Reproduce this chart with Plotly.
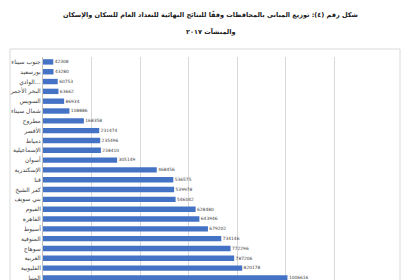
import plotly.graph_objects as go

categories = ["جنوب سيناء", "بورسعيد", "الوادي…", "البحر الأحمر", "السويس", "شمال سيناء", "مطروح",
              "الأقصر", "دمياط", "الإسماعيلية", "أسوان", "الإسكندرية", "قنا", "كفر الشيخ",
              "بني سويف", "الفيوم", "القاهرة", "أسيوط", "المنوفية", "سوهاج", "الغربية",
              "القليوبية", "المنيا"]
values = [42308, 43280, 60753, 63662, 86934, 108886, 168358, 231474, 235496, 238410, 305149,
          468456, 536575, 539978, 546042, 628480, 643946, 679202, 734146, 772296, 787206,
          820178, 1006616]
title_line1 = "شكل رقم (٤): توزيع المباني بالمحافظات وفقًا للنتائج النهائية للتعداد العام للسكان والإسكان"
title_line2 = "والمنشآت ٢٠١٧"

FONT = "DejaVu Sans"

fig = go.Figure(go.Bar(
    x=values, y=categories, orientation="h",
    marker=dict(color="#4472C4", line=dict(width=0)),
    text=["\u00a0" + str(v) for v in values], textposition="outside",
    textfont=dict(size=6.5, color="#404040", family=FONT),
    cliponaxis=False,
))

PH = 223.0
def py(p):
    return (280 - p) / PH

fig.update_layout(
    width=420, height=280,
    margin=dict(l=43, r=37, t=57, b=0),
    paper_bgcolor="white", plot_bgcolor="white",
    showlegend=False, bargap=0.45,
    font=dict(family=FONT, size=6.5, color="#404040"),
    xaxis=dict(range=[0, 1400000], dtick=200000, showgrid=True, gridcolor="#d9d9d9", gridwidth=1,
               showticklabels=False, zeroline=False, showline=False, ticks=""),
    yaxis=dict(range=[22.21, -0.5], type="category", showgrid=False, showline=True,
               linecolor="#bfbfbf", linewidth=1, ticks="", tickfont=dict(size=6, color="#404040")),
    shapes=[dict(type="rect", xref="paper", yref="paper", x0=-0.097, x1=1.05, y0=-0.2, y1=py(49),
                 line=dict(color="#d9d9d9", width=1), fillcolor="rgba(0,0,0,0)", layer="below")],
    annotations=[
        dict(text=title_line1, xref="paper", yref="paper", x=(210 - 43) / 340, y=py(15),
             xanchor="center", yanchor="middle", showarrow=False,
             font=dict(size=6.5, color="#1a1a1a", family=FONT, weight="bold")),
        dict(text=title_line2, xref="paper", yref="paper", x=(210 - 43) / 340, y=py(31),
             xanchor="center", yanchor="middle", showarrow=False,
             font=dict(size=6.5, color="#1a1a1a", family=FONT, weight="bold")),
    ],
)

fig.write_html("out.html")
